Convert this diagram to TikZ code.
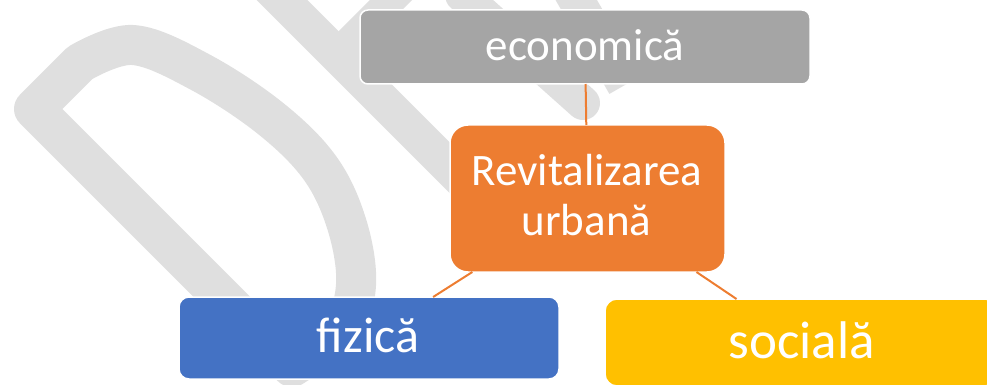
\documentclass[tikz,border=0pt]{standalone}
\usepackage{fontspec}
\setmainfont{Carlito}
\definecolor{wmgray}{HTML}{DFDFDF}
\definecolor{ecogray}{HTML}{A5A5A5}
\definecolor{orng}{HTML}{ED7D31}
\definecolor{blu}{HTML}{4472C4}
\definecolor{yel}{HTML}{FFC000}
\begin{document}
\begin{tikzpicture}[x=1pt,y=-1pt,
  wm/.style={draw=wmgray, line join=round},
  box/.style={rectangle, draw=white, line width=1.5pt, inner sep=0pt, outer sep=0pt},
  lbl/.style={text=white, inner sep=0pt, anchor=base},
  link/.style={draw=orng, line width=2pt}]
\useasboundingbox (0,0) rectangle (987,385);
\clip (0,0) rectangle (987,385);
% watermark
\draw[wm, line width=40pt] (292,367) -- (34,109) -- plot[smooth, tension=0.6] coordinates {(80,63) (133,45) (200,72) (270,118) (320,168) (347,225) (356,285) (340,330) (292,367)} -- cycle;
\draw[wm, line width=36pt] (150,-132) -- (471,189);
\draw[wm, line width=30pt] (336,55) -- (430,-39);
\draw[wm, line width=34pt, line cap=round] (462,-5) -- (583,103);
\draw[wm, line width=36pt] (625,85) -- (410,-290);
% boxes
\node[box, fill=ecogray, rounded corners=8pt, minimum width=450pt, minimum height=74pt] (eco) at (585,47) {};
\node[box, fill=orng, rounded corners=18pt, minimum width=275pt, minimum height=147pt] (rev) at (587.5,198.5) {};
\node[box, fill=blu, rounded corners=10pt, minimum width=380pt, minimum height=82pt] (fiz) at (369,338) {};
\node[box, fill=yel, rounded corners=12pt, minimum width=392pt, minimum height=87pt] (soc) at (801,342.5) {};
% connectors
\draw[link] (eco) -- (rev);
\draw[link] (rev) -- (fiz);
\draw[link] (rev) -- (soc);
% labels
\node[lbl, font=\fontsize{45}{54}\selectfont] (teco) at (585,60.7) {economică};
\node[lbl, font=\fontsize{45}{54}\selectfont] (trevA) at (587,185) {Revitalizarea};
\node[lbl, font=\fontsize{45}{54}\selectfont] (trevB) at (586.5,235) {urbană};
\node[lbl, font=\fontsize{50}{60}\selectfont] (tfiz) at (368,352) {fizică};
\node[lbl, font=\fontsize{53}{64}\selectfont] (tsoc) at (801.5,358.3) {socială};
\end{tikzpicture}
\end{document}
